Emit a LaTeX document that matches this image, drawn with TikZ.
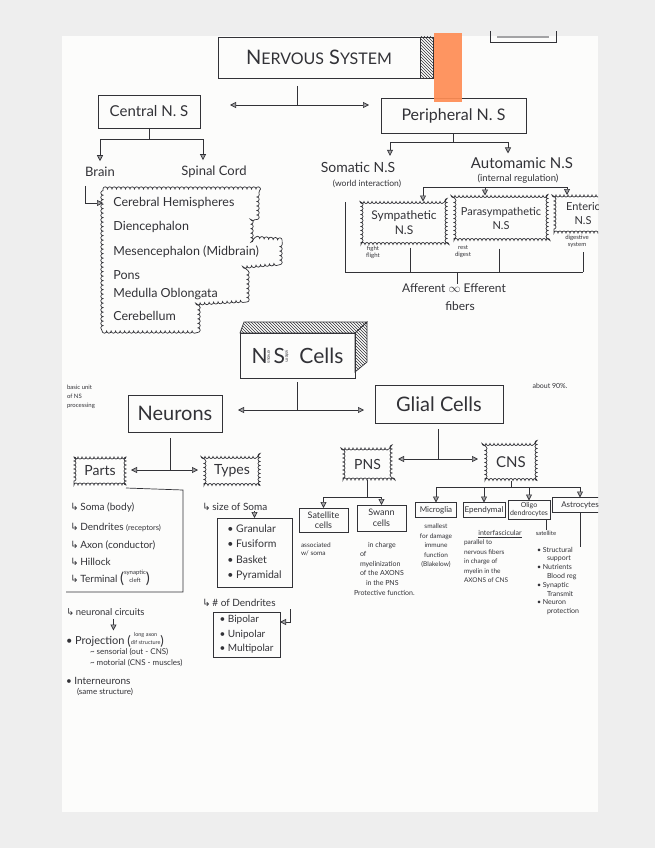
\documentclass[tikz,border=0pt]{standalone}
\usepackage{fontspec}
\usepackage{graphicx}
\setmainfont{Lato}
\newfontfamily\symf{DejaVu Sans}
\usetikzlibrary{arrows.meta,decorations.pathmorphing,patterns,calc}
\definecolor{ink}{RGB}{50,50,55}
\definecolor{paperc}{RGB}{252,252,251}
\definecolor{bgc}{RGB}{238,238,238}
\definecolor{orng}{RGB}{255,141,84}
\newcommand{\fsz}[2]{\fontsize{#1}{#2}\selectfont}
\newcommand{\hk}{{\symf\char"21B3}\,}
\begin{document}
\begin{tikzpicture}[x=1pt,y=-1pt,color=ink,line width=0.7pt,
  every node/.style={inner sep=0pt,outer sep=0pt},
  box/.style={draw,rectangle,inner sep=0pt},
  cloudy/.style={draw,rectangle,inner sep=0pt,decorate,decoration={bumps,segment length=8pt,amplitude=2pt}},
  cloudline/.style={draw,decorate,decoration={bumps,segment length=9pt,amplitude=2.2pt}},
  arr/.style={-{Triangle[length=6pt,width=6pt,fill=ink!45]}},
  hatch/.style={draw,pattern=north west lines,pattern color=ink}]
\useasboundingbox (0,0) rectangle (655,848);
\fill[bgc] (0,0) rectangle (655,848);
\fill[paperc] (62,36) rectangle (598,812);
% top right scrap box
\draw (490,31) -- (490,42) -- (556,42) -- (556,31);
\draw[line width=1.6pt,ink!45] (497,37) -- (549,37);
\begin{scope}
\clip (62,36) rectangle (598,812);
% ---------- Nervous system ----------
\node[box,minimum width=202,minimum height=41] (ns) at (319,57.5)
  {\fsz{20}{22}N{\fsz{16}{18}ERVOUS} S{\fsz{16}{18}YSTEM}};
\draw[hatch] (ns.north east) rectangle ($(ns.south east)+(13,0)$);
\node[box,minimum width=102,minimum height=33] (cns) at (149,111.5) {\fsz{15}{18}Central N. S};
\node[box,minimum width=145,minimum height=35] (pns) at (453.5,115.5) {\fsz{16}{18}Peripheral N. S};
\coordinate (j1) at (297,105);
\draw ([yshift=-8pt]ns.south -| j1) -- (j1);
\draw[arr,shorten >=30] (j1) -- (j1 -| cns.east);
\draw[arr,shorten >=12] (j1) -- (j1 -| pns.west);
% central children
\node[font=\fsz{13}{15}] (brain) at (100,172) {Brain};
\node[font=\fsz{13}{15}] (spinal) at (214,172) {Spinal Cord};
\coordinate (j2) at (149,139);
\draw (cns.south) -- (j2);
\draw[arr,shorten >=6] (j2) -| (brain.north);
\draw[arr,shorten >=6] (j2) -| ([xshift=-11pt]spinal.north);
% peripheral children
\node[font=\fsz{14}{16}] (somatic) at (358,167) {Somatic N.S};
\node[font=\fsz{8.5}{10}] (world) at (367,184) {(world interaction)};
\node[font=\fsz{15}{17}] (auto) at (522,163) {Automamic N.S};
\node[font=\fsz{9.5}{11}] (reg) at (518,179) {(internal regulation)};
\coordinate (j3) at (453,142);
\draw (pns.south -| j3) -- (j3);
\draw[arr,shorten >=6] (j3) -| ([xshift=32pt]somatic.north);
\draw[arr,shorten >=4] (j3) -| ([xshift=-14pt]auto.north);
% brain parts cloud
\draw[cloudline] (103,189) -- (257,189) -- (257,217) -- (251,219) -- (251,238) -- (280,240)
  -- (280,263) -- (247,266) -- (247,300) -- (198,303) -- (198,331) -- (103,331) -- cycle;
\coordinate (cloudin) at (103,203);
\draw[arr] ([xshift=-15pt,yshift=-9pt]brain.south) |- (cloudin);
\begin{scope}[every node/.style={anchor=west,font=\fsz{12.5}{14},inner sep=0pt}]
\node (b1) at (113,203) {Cerebral Hemispheres};
\node (b2) at (113,227) {Diencephalon};
\node (b3) at (113,252) {Mesencephalon (Midbrain)};
\node (b4) at (113,275) {Pons};
\node (b5) at (113,294) {Medulla Oblongata};
\node (b6) at (113,316) {Cerebellum};
\end{scope}
% autonomic divisions
\node[cloudy,minimum width=86,minimum height=43,align=center,font=\fsz{12}{15}] (symp) at (404,223) {Sympathetic\\N.S};
\node[cloudy,minimum width=94,minimum height=45,align=center,font=\fsz{11}{14}] (para) at (501,218) {Parasympathetic\\N.S};
\node[cloudy,minimum width=58,minimum height=38,align=center,font=\fsz{11}{14}] (ent) at (583,214) {Enteric\\N.S};
\coordinate (a1) at (423,187);
\coordinate (a2) at (485,187);
\coordinate (a3) at (567,187);
\draw (a1) -- (a3);
\draw[arr] (a1) -- (a1 |- symp.north);
\draw[arr] (a2) -- (a2 |- para.north);
\draw[arr] (a3) -- (a3 |- ent.north);
\node[align=center,font=\fsz{6}{7}] (fight) at (373,252) {fight\\flight};
\node[align=center,font=\fsz{6}{7}] (rest) at (463,252) {rest\\digest};
\node[align=center,font=\fsz{6}{7}] (dig) at (577,241) {digestive\\system};
\coordinate (s0) at (345,202);
\coordinate (br) at (457,272);
\draw (s0) -- (s0 |- br) -- (br -| ent.south);
\draw[shorten <=3] ([xshift=6pt]symp.south) -- ([xshift=6pt]symp.south |- br);
\draw[shorten <=8] ([xshift=-2pt]para.south) -- ([xshift=-2pt]para.south |- br);
\draw[shorten <=19] (ent.south) -- (ent.south |- br);
\node[font=\fsz{12}{14}] (aff) at (454,288) {Afferent $\infty$ Efferent};
\node[font=\fsz{12}{14}] (fib) at (460,306) {fibers};
\draw (br) -- (br |- aff.north);
% ---------- NS cells ----------
\node[box,minimum width=115,minimum height=45] (cells) at (297.5,355.5)
  {\fsz{21}{24}N\raisebox{13pt}{\rotatebox{-90}{\fsz{4.5}{5}ervous}}\,S\raisebox{13pt}{\rotatebox{-90}{\fsz{4.5}{5}ystem}}\ \ Cells};
\draw[hatch] (cells.north west) -- ++(4,-11) -- ($(cells.north east)+(12,-11)$) -- (cells.north east) -- cycle;
\draw[hatch] (cells.north east) -- ++(12,-11) -- ++(0,40) -- ($(cells.south east)+(0,-6)$) -- cycle;
\node[box,minimum width=94,minimum height=37] (neur) at (175,413.5) {\fsz{20}{22}Neurons};
\node[box,minimum width=128,minimum height=38] (glia) at (439,404) {\fsz{20}{22}Glial Cells};
\coordinate (j5) at (297,410);
\draw ([yshift=-4pt]cells.south -| j5) -- (j5);
\draw[arr,shorten >=16] (j5) -- (j5 -| neur.east);
\draw[arr,shorten >=11] (j5) -- (j5 -| glia.west);
\node[align=left,anchor=west,font=\fsz{6}{9}] (basic) at (67,397) {basic unit\\of NS\\processing};
\node[font=\fsz{7}{8}] (about) at (550,386) {about 90\%.};
% ---------- Neurons ----------
\node[cloudy,minimum width=52,minimum height=28,font=\fsz{14}{16}] (parts) at (100,471) {Parts};
\node[cloudy,minimum width=56,minimum height=29,font=\fsz{14}{16}] (types) at (232,471) {Types};
\coordinate (j6) at (170,470);
\draw ([yshift=-6pt]neur.south -| j6) -- (j6);
\draw[arr,shorten >=5] (j6) -- (j6 -| parts.east);
\draw[arr,shorten >=6] (j6) -- (j6 -| types.west);
\coordinate (pb1) at (183,490);
\coordinate (pb2) at (183,592);
\coordinate (pb3) at (66,592);
\draw ([yshift=-3pt]parts.south east) -- (pb1) -- (pb2) -- (pb3);
\begin{scope}[every node/.style={anchor=west,font=\fsz{10}{12},inner sep=0pt}]
\node (p1) at (70,507) {\hk Soma (body)};
\node (p2) at (70,527) {\hk Dendrites {\fsz{7.5}{9}(receptors)}};
\node (p3) at (70,545) {\hk Axon (conductor)};
\node (p4) at (70,562) {\hk Hillock};
\node (p5) at (70,578) {\hk Terminal \raisebox{-1pt}{\fsz{15}{15}(}\shortstack{\fsz{6}{6.5}synaptic\\\fsz{6}{6.5}cleft}\raisebox{-1pt}{\fsz{15}{15})}};
\node (t0) at (202,507) {\hk size of Soma};
\node (d0) at (202,603) {\hk \# of Dendrites};
\node (c0) at (66,612) {\fsz{9.5}{11}\hk neuronal circuits};
\end{scope}
\node[box,minimum width=75,minimum height=69,align=left,font=\fsz{10.5}{15.5}] (tbox) at (254.5,552.5)
  {• Granular\\• Fusiform\\• Basket\\• Pyramidal};
\draw[arr] (tbox.north |- t0.south) -- (tbox.north);
\node[box,minimum width=67,minimum height=45,align=left,font=\fsz{10}{14.5}] (dbox) at (246.5,634.5)
  {• Bipolar\\• Unipolar\\• Multipolar};
\draw[arr] ([xshift=10pt,yshift=3pt]dbox.north east) |- ([yshift=-10pt]dbox.north east);
\node[anchor=west,font=\fsz{11}{13}] (proj) at (66,640)
  {• Projection \raisebox{-1pt}{\fsz{13}{13}(}\shortstack{\fsz{5.5}{6}long axon\\\fsz{5.5}{6}dif structure}\raisebox{-1pt}{\fsz{13}{13})}};
\draw[arr] ([xshift=8pt,yshift=-3pt]c0.south) -- ([xshift=8pt,yshift=2pt]c0.south |- proj.north);
\node[anchor=west,font=\fsz{8}{9}] (sens) at (90,652) {\textasciitilde\ sensorial (out - CNS)};
\node[anchor=west,font=\fsz{8}{9}] (mot) at (90,663) {\textasciitilde\ motorial (CNS - muscles)};
\node[anchor=west,font=\fsz{10}{12}] (inter) at (66,681) {• Interneurons};
\node[anchor=west,font=\fsz{8}{9}] (same) at (77,692) {(same structure)};
% ---------- Glial ----------
\node[cloudy,minimum width=49,minimum height=32,font=\fsz{14}{16}] (pnsc) at (367.5,464) {PNS};
\node[cloudy,minimum width=52,minimum height=37,font=\fsz{15}{17}] (cnsc) at (511,462) {CNS};
\coordinate (j7) at (438,459);
\draw ([yshift=-6pt]glia.south -| j7) -- (j7);
\draw[arr,shorten >=6] (j7) -- (j7 -| pnsc.east);
\draw[arr,shorten >=7] (j7) -- (j7 -| cnsc.west);
% PNS glia
\node[box,minimum width=49,minimum height=24,align=center,font=\fsz{9}{10.5}] (sat) at (323.5,520) {Satellite\\cells};
\node[box,minimum width=49,minimum height=26,align=center,font=\fsz{9}{10.5}] (swa) at (381.5,518) {Swann\\cells};
\coordinate (j8) at (367,497);
\draw (pnsc.south) -- (pnsc.south |- j8);
\draw (j8 -| sat.north) -- (j8 -| swa.north);
\draw[arr] (j8 -| sat.north) -- (sat.north);
\draw[arr] (j8 -| swa.north) -- (swa.north);
\node[anchor=north west,align=left,font=\fsz{6.5}{8}] (n1) at (301,543) {associated\\w/ soma};
\node[anchor=north west,align=left,font=\fsz{7}{9.6}] (n2) at (354,542)
  {\hspace{14pt}in charge\\\hspace{6pt}of\\\hspace{6pt}myelinization\\\hspace{6pt}of the AXONS\\\hspace{12pt}in the PNS\\Protective function.};
% CNS glia
\node[box,minimum width=41,minimum height=15,font=\fsz{8}{9}] (mic) at (436,510) {Microglia};
\node[box,minimum width=42,minimum height=15,font=\fsz{8}{9}] (ep) at (484,510) {Ependymal};
\node[box,minimum width=42,minimum height=19,align=center,font=\fsz{7}{8}] (oli) at (529,510) {Oligo\\dendrocytes};
\node[box,minimum width=56,minimum height=15,font=\fsz{8}{9}] (ast) at (580,505) {Astrocytes};
\coordinate (j9) at (511,487);
\draw (cnsc.south) -- (cnsc.south |- j9);
\draw (j9 -| mic.north) -- (j9 -| ast.north);
\draw[arr] (j9 -| mic.north) -- (mic.north);
\draw[arr] (j9 -| ep.north) -- (ep.north);
\draw[arr] (j9 -| oli.north) -- (oli.north);
\draw[arr] (j9 -| ast.north) -- (ast.north);
\node[anchor=north,align=center,font=\fsz{6.5}{9.5}] (mn) at (436,524) {smallest\\for damage\\immune\\function\\(Blakelow)};
\node[font=\fsz{7}{8}] (ifc) at (500,533) {interfascicular};
\draw ([yshift=-2pt]ifc.south west) -- ([yshift=-2pt]ifc.south east);
\node[font=\fsz{6}{7}] (sat2) at (546,533) {satellite};
\draw (oli.south -| sat2.north) -- ([yshift=1pt]sat2.north);
\node[anchor=north west,align=left,font=\fsz{6.5}{9.5}] (on) at (464,540)
  {parallel to\\nervous fibers\\in charge of\\myelin in the\\AXONS of CNS};
\node[anchor=north west,align=left,font=\fsz{7}{8.8}] (al) at (537,547)
  {• Structural\\\hspace{10pt}support\\• Nutrients\\\hspace{10pt}Blood reg\\• Synaptic\\\hspace{10pt}Transmit\\• Neuron\\\hspace{10pt}protection};
\draw (ast.south) -- (ast.south |- al.north);
\end{scope}
% orange marker
\fill[orng,opacity=0.92] (434,33) rectangle (462,102);
\end{tikzpicture}
\end{document}
